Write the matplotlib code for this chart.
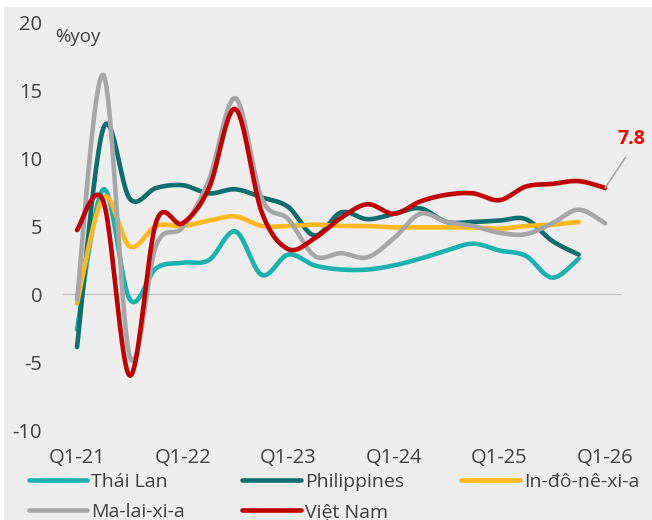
import numpy as np
import matplotlib
matplotlib.use('Agg')
import matplotlib.pyplot as plt
from matplotlib.patches import Rectangle

plt.rcParams['font.family'] = ['Open Sans', 'DejaVu Sans']
plt.rcParams['axes.unicode_minus'] = False

quarters = ['Q1-21', 'Q2-21', 'Q3-21', 'Q4-21',
            'Q1-22', 'Q2-22', 'Q3-22', 'Q4-22',
            'Q1-23', 'Q2-23', 'Q3-23', 'Q4-23',
            'Q1-24', 'Q2-24', 'Q3-24', 'Q4-24',
            'Q1-25', 'Q2-25', 'Q3-25', 'Q4-25', 'Q1-26']

thai = [-2.6, 7.7, -0.4, 1.9, 2.3, 2.5, 4.6, 1.4, 2.9, 2.1, 1.8, 1.8,
        2.1, 2.6, 3.2, 3.7, 3.2, 2.8, 1.2, 2.6]
phil = [-3.9, 12.2, 7.0, 7.8, 8.0, 7.4, 7.7, 7.1, 6.4, 4.3, 6.0, 5.5,
        5.9, 6.3, 5.3, 5.3, 5.4, 5.5, 3.9, 2.9]
indo = [-0.7, 7.1, 3.5, 5.0, 5.0, 5.4, 5.7, 5.0, 5.0, 5.1, 5.0, 5.0,
        4.9, 4.9, 4.9, 4.9, 4.8, 5.0, 5.1, 5.3]
malay = [-0.4, 16.1, -4.6, 3.6, 4.9, 8.4, 14.4, 7.0, 5.5, 2.8, 3.0, 2.7,
         4.1, 5.9, 5.3, 5.0, 4.5, 4.4, 5.2, 6.2, 5.2]
vn = [4.7, 6.8, -6.0, 5.3, 5.2, 7.8, 13.6, 6.0, 3.3, 4.1, 5.6, 6.6,
      5.9, 6.8, 7.3, 7.4, 6.9, 7.9, 8.1, 8.3, 7.8]

names = ['Thái Lan', 'Philippines', 'In-đô-nê-xi-a', 'Ma-lai-xi-a', 'Việt Nam']
series = [thai, phil, indo, malay, vn]
colors = ['#1AB2AE', '#0E6D6E', '#FFB81C', '#A6A6A6', '#C00000']


def smooth(y, n=24):
    # excel-like smoothed line (catmull-rom through the points)
    y = np.asarray(y, dtype=float)
    x = np.arange(len(y), dtype=float)
    px = np.concatenate([[x[0]], x, [x[-1]]])
    py = np.concatenate([[y[0]], y, [y[-1]]])
    t = np.linspace(0, 1, n, endpoint=False)
    xs, ys = [], []
    for i in range(1, len(px) - 2):
        for p, out in ((px, xs), (py, ys)):
            p0, p1, p2, p3 = p[i - 1], p[i], p[i + 1], p[i + 2]
            out.append(0.5 * (2 * p1 + (-p0 + p2) * t
                              + (2 * p0 - 5 * p1 + 4 * p2 - p3) * t ** 2
                              + (-p0 + 3 * p1 - 3 * p2 + p3) * t ** 3))
    xs.append([x[-1]])
    ys.append([y[-1]])
    return np.concatenate(xs), np.concatenate(ys)


fig = plt.figure(figsize=(6.52, 5.20), dpi=100, facecolor='white')
fig.patches.append(Rectangle((4 / 652, 0), 1, 1 - 7 / 520, transform=fig.transFigure,
                             facecolor='#EDEDED', edgecolor='none', zorder=-10))
ax = fig.add_axes([63 / 652, 1 - 430 / 520, (622 - 63) / 652, (430 - 22) / 520])
ax.set_facecolor('none')

ax.axhline(0, color='#BFBFBF', linewidth=0.9, zorder=1)

lines = []
for name, vals, c in zip(names, series, colors):
    xs, ys = smooth(vals)
    ln, = ax.plot(xs, ys, color=c, linewidth=3.3, solid_capstyle='round', label=name, zorder=2)
    lines.append(ln)

ax.set_xlim(-0.53, 20.64)
ax.set_ylim(-10, 20)
ax.set_yticks([-10, -5, 0, 5, 10, 15, 20])
ax.set_xticks(range(0, len(quarters), 4))
ax.set_xticklabels(quarters[::4])
for s in ax.spines.values():
    s.set_visible(False)
ax.tick_params(axis='both', length=0, labelsize=14.5, colors='#404040')
ax.tick_params(axis='y', pad=15)
ax.tick_params(axis='x', pad=13)

ax.text(-0.83, 18.9, '%yoy', fontsize=13.5, color='#404040', ha='left', va='center')

ax.annotate(f'{vn[-1]}', xy=(len(vn) - 1, vn[-1]), xytext=(26, 49), textcoords='offset pixels',
            ha='center', va='center', fontsize=14, fontweight='bold', color='#FF0000',
            annotation_clip=False,
            arrowprops=dict(arrowstyle='-', color='#A6A6A6', linewidth=1.2,
                            relpos=(0.5, 0.0), shrinkA=5, shrinkB=0))

order = [0, 3, 1, 4, 2]
leg = fig.legend([lines[i] for i in order], [names[i] for i in order],
                 loc='upper left', bbox_to_anchor=(15 / 652, 1 - 459 / 520), ncol=3,
                 frameon=False, fontsize=14, handlelength=3.0, handletextpad=0.22,
                 columnspacing=2.95, labelspacing=0.62, borderpad=0.2)
for t in leg.get_texts():
    t.set_color('#404040')

fig.savefig('out.png', dpi=100, facecolor=fig.get_facecolor())
